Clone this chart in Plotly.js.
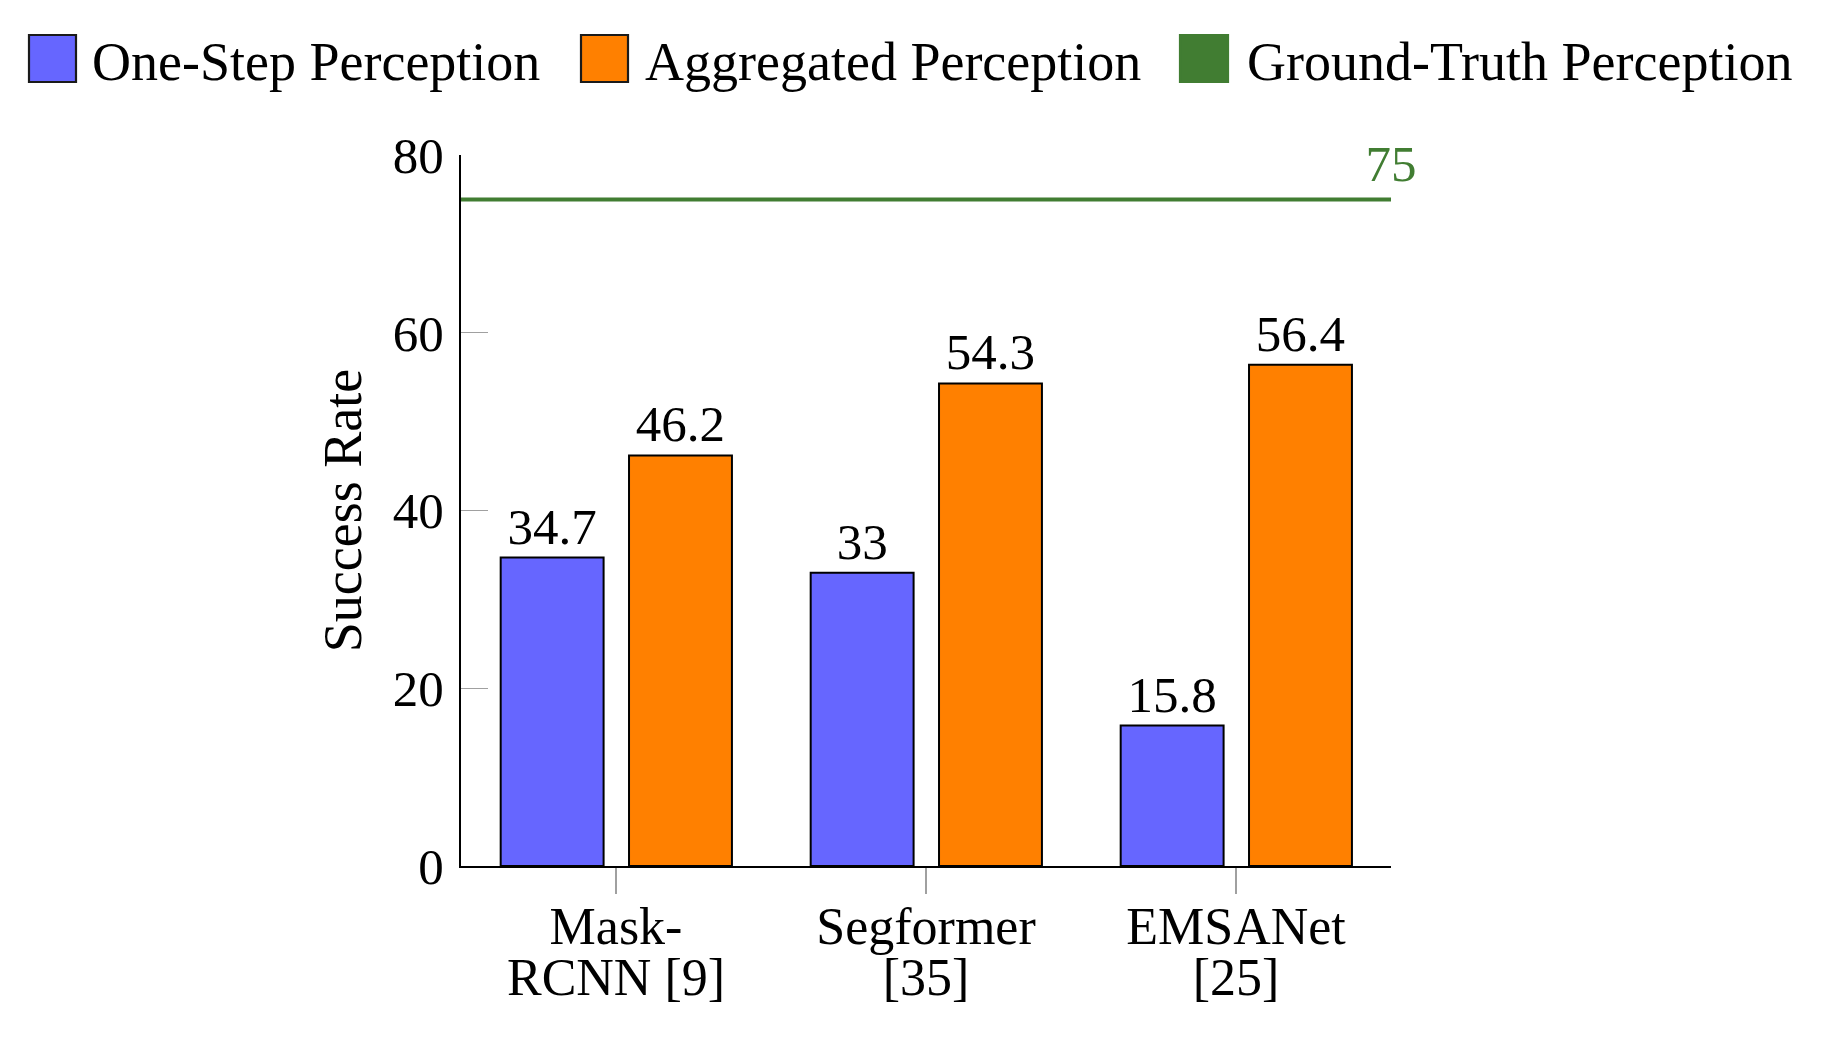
<!DOCTYPE html>
<html>
<head>
<meta charset="utf-8">
<script src="https://cdn.plot.ly/plotly-3.0.1.min.js"></script>
<style>
  html, body { margin: 0; padding: 0; background: #ffffff; }
  #chart { width: 1834px; height: 1051px; }
</style>
</head>
<body>
<div id="chart"></div>
<script>
// ---------------- data ----------------
const categories = ['Mask-RCNN [9]', 'Segformer [35]', 'EMSANet [25]'];
const tickLines = [['Mask-', 'RCNN [9]'], ['Segformer', '[35]'], ['EMSANet', '[25]']];
const seriesNames = ['One-Step Perception', 'Aggregated Perception', 'Ground-Truth Perception'];
const oneStep = [34.7, 33, 15.8];
const aggregated = [46.2, 54.3, 56.4];
const groundTruth = [75, 75];
const groundTruthLabel = ['', '75'];
const groundTruthSpan = [0, 1];
const yTickVals = [0, 20, 40, 60, 80];
const yTitle = 'Success Rate';

// ---------------- style ----------------
const FONT = 'Liberation Serif, Times New Roman, serif';
const BLUE = '#6666ff';
const ORANGE = '#ff8000';
const GREEN = '#417d32';
const WORD = 54, DIGIT = 51;

// plot area in pixels
const L = 461, R = 1391, T = 155, B = 866, W = 1834, H = 1051;
const px = x => (x - L) / (R - L);
const py = y => (B - y) / (B - T);

const tickText = tickLines.map(lines =>
  lines.map(s => '<span style="font-size:52px">' + s + '</span>').join('<br>'));

const traces = [
  {
    type: 'bar', name: seriesNames[0], x: categories, y: oneStep,
    width: 0.332, offset: -0.372,
    marker: { color: BLUE, line: { color: '#000', width: 2 } },
    text: oneStep.map(String), textposition: 'outside',
    textfont: { family: FONT, size: DIGIT, color: '#000' },
    cliponaxis: false, showlegend: false, hoverinfo: 'skip'
  },
  {
    type: 'bar', name: seriesNames[1], x: categories, y: aggregated,
    width: 0.332, offset: 0.042,
    marker: { color: ORANGE, line: { color: '#000', width: 2 } },
    text: aggregated.map(String), textposition: 'outside',
    textfont: { family: FONT, size: DIGIT, color: '#000' },
    cliponaxis: false, showlegend: false, hoverinfo: 'skip'
  },
  {
    type: 'scatter', mode: 'lines+markers+text', name: seriesNames[2],
    x: groundTruthSpan, y: groundTruth, xaxis: 'x2',
    line: { color: GREEN, width: 4 },
    marker: { size: [0, 7], color: 'rgba(0,0,0,0)', line: { width: 0 } },
    text: groundTruthLabel, textposition: 'top center',
    textfont: { family: FONT, size: DIGIT, color: GREEN },
    cliponaxis: false, showlegend: false, hoverinfo: 'skip'
  }
];

// manual legend (large boxes as in the reference)
const legendItems = [
  { color: BLUE, border: '#1a1a1a', x0: 29, x1: 76, tx: 90 },
  { color: ORANGE, border: '#1a1a1a', x0: 581, x1: 628, tx: 643 },
  { color: GREEN, border: GREEN, x0: 1180, x1: 1228, tx: 1245 }
];
const shapes = legendItems.map(it => ({
  type: 'rect', xref: 'paper', yref: 'paper',
  x0: px(it.x0), x1: px(it.x1), y0: py(82), y1: py(35),
  fillcolor: it.color, line: { color: it.border, width: 2.2 }
}));
const annotations = legendItems.map((it, i) => ({
  xref: 'paper', yref: 'paper', x: px(it.tx), y: py(62),
  xanchor: 'left', yanchor: 'middle', showarrow: false,
  text: seriesNames[i], font: { family: FONT, size: WORD, color: '#000' }
}));

const layout = {
  width: W, height: H,
  paper_bgcolor: '#fff', plot_bgcolor: '#fff',
  margin: { l: L, r: W - R, t: T, b: H - B, pad: 0 },
  barmode: 'group',
  showlegend: false,
  font: { family: FONT, color: '#000' },
  xaxis: {
    type: 'category', range: [-0.5, 2.5],
    tickvals: categories, ticktext: tickText,
    tickfont: { family: FONT, size: 39, color: '#000' },
    ticks: 'outside', ticklen: 26, tickwidth: 1.3, tickcolor: '#a0a0a0',
    ticklabelstandoff: 3,
    showline: true, linecolor: '#000', linewidth: 2,
    showgrid: false, zeroline: false, automargin: false, fixedrange: true
  },
  xaxis2: { overlaying: 'x', range: [0, 1], visible: false, fixedrange: true },
  yaxis: {
    range: [0, 80], tickvals: yTickVals, ticktext: yTickVals.map(String),
    tickfont: { family: FONT, size: DIGIT, color: '#000' },
    ticks: 'inside', ticklen: 27, tickwidth: 1.3, tickcolor: '#a0a0a0',
    ticklabelstandoff: 5,
    showline: true, linecolor: '#000', linewidth: 2,
    showgrid: false, zeroline: false, automargin: true, fixedrange: true,
    title: { text: yTitle, standoff: 14, font: { family: FONT, size: WORD, color: '#000' } }
  },
  shapes: shapes,
  annotations: annotations
};

Plotly.newPlot('chart', traces, layout, { displayModeBar: false, staticPlot: true });
</script>
</body>
</html>
